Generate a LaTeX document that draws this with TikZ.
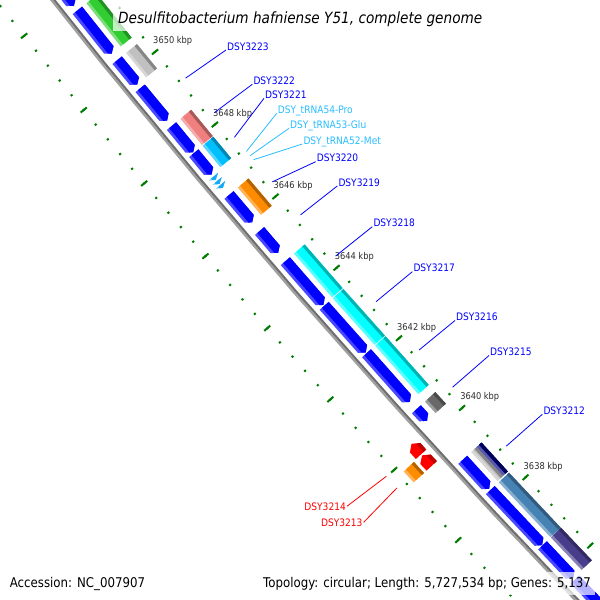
\documentclass[tikz,border=0pt]{standalone}
\usepackage{fontspec}
\newfontfamily\cgfont[FakeStretch=0.88]{DejaVu Sans}

\definecolor{genecol}{RGB}{0,0,255}
\definecolor{genelight}{RGB}{72,72,255}
\definecolor{trnacol}{RGB}{20,170,245}
\definecolor{trnalight}{RGB}{110,205,255}
\definecolor{trnatext}{RGB}{40,190,255}
\definecolor{revcol}{RGB}{255,0,0}
\definecolor{revdark}{RGB}{190,0,0}
\definecolor{tickcol}{RGB}{0,125,0}
\definecolor{kbpcol}{RGB}{45,45,45}
\definecolor{backlight}{RGB}{160,160,160}
\definecolor{backdark}{RGB}{110,110,110}
\definecolor{coggreen}{RGB}{50,205,50}
\definecolor{cogsilver}{RGB}{192,192,192}
\definecolor{cogcoral}{RGB}{240,128,128}
\definecolor{cogsky}{RGB}{0,191,255}
\definecolor{cogorange}{RGB}{255,140,0}
\definecolor{cogcyan}{RGB}{0,255,255}
\definecolor{cogdim}{RGB}{105,105,105}
\definecolor{cognavy}{RGB}{0,0,128}
\definecolor{cogsteel}{RGB}{70,130,180}
\definecolor{cogslate}{RGB}{72,61,139}

% angle of a genome position (kbp) seen from the centre of the circle
\newcommand{\kang}[1]{140.845-0.3188*(3650-(#1))}

% gene on the forward track, arrow tip at #2
\newcommand{\fwdgene}[2]{%
  \fill[genelight] ({\kang{#1}}:8491.5) -- ({\kang{#1}}:8479.5) -- ({\kang{#2+0.1}}:8479.5)
    -- ({\kang{#2}}:8485.5) -- ({\kang{#2+0.1}}:8491.5) -- cycle;
  \fill[genecol] ({\kang{#1}}:8488.5) -- ({\kang{#1}}:8479.5) -- ({\kang{#2+0.1}}:8479.5)
    -- ({\kang{#2}}:8485.5) -- ({\kang{#2+0.05}}:8488.5) -- cycle;}

% tRNA on the forward track
\newcommand{\trnagene}[2]{%
  \fill[trnalight] ({\kang{#1}}:8491.5) -- ({\kang{#1}}:8479.5) -- ({\kang{#2}}:8485.5) -- cycle;
  \fill[trnacol] ({\kang{#1}}:8488.5) -- ({\kang{#1}}:8479.5) -- ({\kang{#2}}:8485.5)
    -- ({\kang{(#1+#2)/2}}:8488.5) -- cycle;}

% gene on the reverse track, arrow tip at #1
\newcommand{\revgene}[2]{%
  \fill[revcol] ({\kang{#1}}:8512.5) -- ({\kang{#1-0.11}}:8505.5) -- ({\kang{#2}}:8505.5)
    -- ({\kang{#2}}:8519.5) -- ({\kang{#1-0.11}}:8519.5) -- cycle;
  \fill[revdark] ({\kang{#1-0.07}}:8509) -- ({\kang{#1-0.11}}:8505.5) -- ({\kang{#2}}:8505.5)
    -- ({\kang{#2}}:8509) -- cycle;}

% shaded box from #1 to #2 between the radii #3 and #4
\newcommand{\featbox}[5]{%
  \fill[#5!65!white] ({\kang{#1}}:#3) -- ({\kang{#2}}:#3) -- ({\kang{#2}}:#4) -- ({\kang{#1}}:#4) -- cycle;
  \fill[#5] ({\kang{#1}}:{#3-3}) -- ({\kang{#2}}:{#3-3}) -- ({\kang{#2}}:#4) -- ({\kang{#1}}:#4) -- cycle;
  \fill[#5!70!black] ({\kang{#1}}:{#4+3}) -- ({\kang{#2}}:{#4+3}) -- ({\kang{#2}}:#4) -- ({\kang{#1}}:#4) -- cycle;}

\tikzset{
  tickdot/.style={draw=tickcol, line width=2pt},
  kbplabel/.style={anchor=base west, inner sep=0pt, xshift=-2pt, yshift=8pt, text=kbpcol,
    font=\cgfont\fontsize{9.4}{11}\selectfont},
  genelabel/.style={anchor=base west, inner sep=1pt, text=genecol,
    font=\cgfont\fontsize{10.3}{12}\selectfont},
  trnalabel/.style={genelabel, text=trnatext},
  revlabel/.style={genelabel, anchor=base east, text=revcol},
  genelink/.style={draw=genecol, line width=0.8pt},
  trnalink/.style={genelink, draw=trnatext},
  revlink/.style={genelink, draw=revcol},
  titletext/.style={anchor=base west, fill=white, fill opacity=0.7, text opacity=1,
    inner xsep=5pt, inner ysep=4.5pt, font=\cgfont\itshape\fontsize{15.5}{18}\selectfont},
  infotext/.style={fill=white, fill opacity=0.7, text opacity=1, inner xsep=4pt, inner ysep=5pt,
    font=\cgfont\fontsize{13.4}{16}\selectfont}
}

\begin{document}
\begin{tikzpicture}[x=1pt,y=-1pt]
  \useasboundingbox (0,0) rectangle (600,600);
  \clip (0,0) rectangle (600,600);
  \fill[white] (0,0) rectangle (600,600);

  \begin{scope}[shift={(6708,-5284)}]
    %%%%%%%%%%%Draw the tick marks%%%%%%%%%%%
    \foreach \i in {0,...,44}{
      \pgfmathsetmacro\k{3636+0.4*\i}
      \draw[tickdot] ({\kang{\k}}:8449.9) -- ({\kang{\k}}:8452.1);
      \draw[tickdot] ({\kang{\k}}:8541.9) -- ({\kang{\k}}:8544.1);
    }
    \foreach \k in {3636,3638,...,3654}{
      \draw[tickdot] ({\kang{\k}}:8447) -- ({\kang{\k}}:8455);
      \draw[tickdot] ({\kang{\k}}:8539) -- ({\kang{\k}}:8547);
    }
    \foreach \k in {3638,3640,...,3650}
      \node[kbplabel] (kb\k) at ({\kang{\k}}:8451) {\k\ kbp};

    %%%%%%%%%%%Draw the backbone%%%%%%%%%%%
    \draw[backlight, line width=2.5pt] plot[variable=\t, domain=135.5:142, samples=40] (\t:8499.2);
    \draw[backdark, line width=2pt] plot[variable=\t, domain=135.5:142, samples=40] (\t:8497);

    %%%%%%%%%%%Draw the forward genes%%%%%%%%%%%
    \fwdgene{3653.5}{3651.84}
    \fwdgene{3651.72}{3650.55}
    \fwdgene{3650.37}{3649.70}
    \fwdgene{3649.60}{3648.71}
    \fwdgene{3648.56}{3647.84}
    \fwdgene{3647.82}{3647.23}
    \trnagene{3647.17}{3647.09}
    \trnagene{3647.05}{3646.97}
    \trnagene{3646.94}{3646.86}
    \fwdgene{3646.66}{3645.90}
    \fwdgene{3645.66}{3645.05}
    \fwdgene{3644.82}{3643.59}
    \fwdgene{3643.565}{3642.245}
    \fwdgene{3642.22}{3640.84}
    \fwdgene{3640.63}{3640.30}
    \fwdgene{3639.18}{3638.35}
    \fwdgene{3638.31}{3636.71}
    \fwdgene{3636.70}{3635.75}
    \fwdgene{3635.70}{3634.00}

    %%%%%%%%%%%Draw the COG boxes%%%%%%%%%%%
    \featbox{3651.72}{3650.55}{8474}{8460}{coggreen}
    \featbox{3650.37}{3649.70}{8474}{8460}{cogsilver}
    \featbox{3648.56}{3647.84}{8474}{8460}{cogcoral}
    \featbox{3647.82}{3647.23}{8474}{8460}{cogsky}
    \featbox{3646.66}{3645.90}{8474}{8460}{cogorange}
    \featbox{3644.82}{3643.59}{8474}{8460}{cogcyan}
    \featbox{3643.565}{3642.245}{8474}{8460}{cogcyan}
    \featbox{3642.22}{3640.84}{8474}{8460}{cogcyan}
    \featbox{3640.63}{3640.30}{8474}{8460}{cogdim}
    \featbox{3639.18}{3638.35}{8474}{8466.5}{cogsilver}
    \featbox{3639.18}{3638.35}{8466.5}{8460}{cognavy}
    \featbox{3638.31}{3636.71}{8474}{8460}{cogsteel}
    \featbox{3636.70}{3635.75}{8474}{8460}{cogslate}

    %%%%%%%%%%%Draw the reverse genes%%%%%%%%%%%
    \revgene{3640.16}{3639.86}
    \revgene{3639.83}{3639.53}
    \featbox{3639.84}{3639.53}{8537}{8523}{cogorange}

    %%%%%%%%%%%Label anchors%%%%%%%%%%%
    \coordinate (g3223) at ({\kang{3649.155}}:8444);
    \coordinate (g3222) at ({\kang{3648.20}}:8444);
    \coordinate (g3221) at ({\kang{3647.525}}:8444);
    \coordinate (gt54) at ({\kang{3647.13}}:8444);
    \coordinate (gt53) at ({\kang{3647.01}}:8444);
    \coordinate (gt52) at ({\kang{3646.90}}:8444);
    \coordinate (g3220) at ({\kang{3646.28}}:8444);
    \coordinate (g3219) at ({\kang{3645.355}}:8444);
    \coordinate (g3218) at ({\kang{3644.205}}:8444);
    \coordinate (g3217) at ({\kang{3642.905}}:8444);
    \coordinate (g3216) at ({\kang{3641.53}}:8444);
    \coordinate (g3215) at ({\kang{3640.465}}:8444);
    \coordinate (g3212) at ({\kang{3638.765}}:8444);
    \coordinate (g3214) at ({\kang{3640.01}}:8553);
    \coordinate (g3213) at ({\kang{3639.68}}:8553);
  \end{scope}

  %%%%%%%%%%%Gene labels%%%%%%%%%%%
  \node[genelabel] (l3223) at (226,50) {DSY3223};
  \draw[genelink] (l3223.base west) -- (g3223);
  \node[genelabel] (l3222) at (252.3,84.3) {DSY3222};
  \draw[genelink] (l3222.base west) -- (g3222);
  \node[genelabel] (l3221) at (264,98.3) {DSY3221};
  \draw[genelink] (l3221.base west) -- (g3221);
  \node[trnalabel] (lt54) at (276.7,113.3) {DSY\_tRNA54-Pro};
  \draw[trnalink] (lt54.base west) -- (gt54);
  \node[trnalabel] (lt53) at (289,128.3) {DSY\_tRNA53-Glu};
  \draw[trnalink] (lt53.base west) -- (gt53);
  \node[trnalabel] (lt52) at (302.3,144) {DSY\_tRNA52-Met};
  \draw[trnalink] (lt52.base west) -- (gt52);
  \node[genelabel] (l3220) at (315.7,161.7) {DSY3220};
  \draw[genelink] (l3220.base west) -- (g3220);
  \node[genelabel] (l3219) at (337.3,186) {DSY3219};
  \draw[genelink] (l3219.base west) -- (g3219);
  \node[genelabel] (l3218) at (372.3,226.7) {DSY3218};
  \draw[genelink] (l3218.base west) -- (g3218);
  \node[genelabel] (l3217) at (412.3,271.7) {DSY3217};
  \draw[genelink] (l3217.base west) -- (g3217);
  \node[genelabel] (l3216) at (455,320.5) {DSY3216};
  \draw[genelink] (l3216.base west) -- (g3216);
  \node[genelabel] (l3215) at (489,355.5) {DSY3215};
  \draw[genelink] (l3215.base west) -- (g3215);
  \node[genelabel] (l3212) at (542.3,414.3) {DSY3212};
  \draw[genelink] (l3212.base west) -- (g3212);
  \node[revlabel] (l3214) at (347,510) {DSY3214};
  \draw[revlink] (l3214.east) -- (g3214);
  \node[revlabel] (l3213) at (363.7,526) {DSY3213};
  \draw[revlink] (l3213.east) -- (g3213);

  %%%%%%%%%%%Title and map information%%%%%%%%%%%
  \node[titletext] (title) at (113,23.5) {Desulfitobacterium hafniense Y51, complete genome};
  \node[infotext, anchor=base west] (access) at (5.6,587.5) {Accession: NC\_007907};
  \node[infotext, anchor=base east] (topo) at (595,587.5) {Topology: circular; Length: 5,727,534 bp; Genes: 5,137};
\end{tikzpicture}
\end{document}
